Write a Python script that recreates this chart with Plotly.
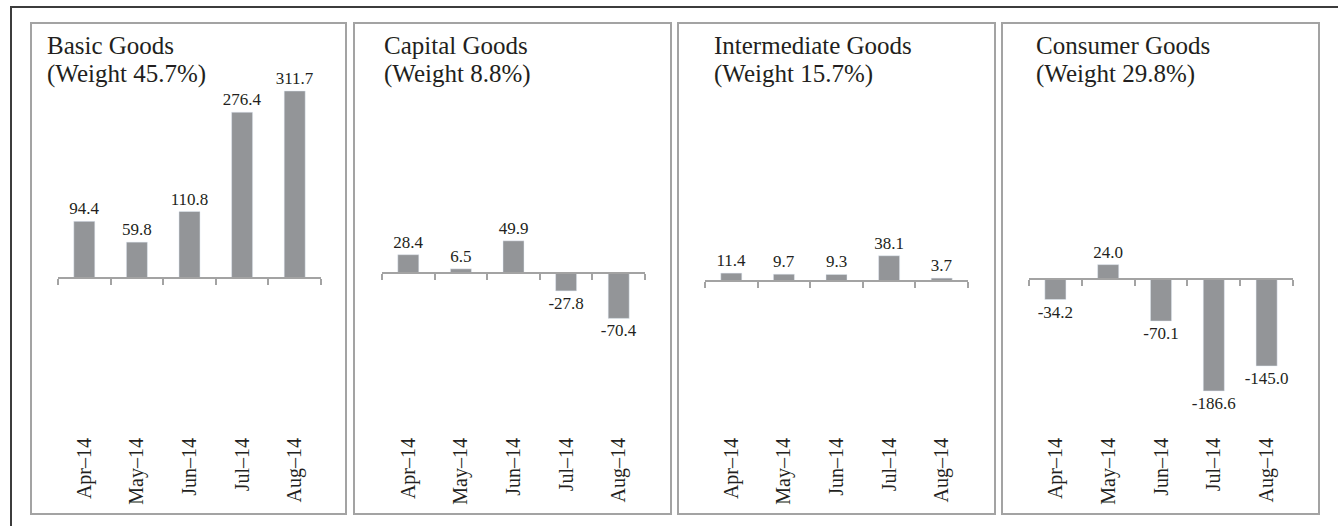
import plotly.graph_objects as go

months = ["Apr–14", "May–14", "Jun–14", "Jul–14", "Aug–14"]
basic = [94.4, 59.8, 110.8, 276.4, 311.7]
capital = [28.4, 6.5, 49.9, -27.8, -70.4]
intermediate = [11.4, 9.7, 9.3, 38.1, 3.7]
consumer = [-34.2, 24.0, -70.1, -186.6, -145.0]
names = ["Basic Goods", "Capital Goods", "Intermediate Goods", "Consumer Goods"]
weights = ["(Weight 45.7%)", "(Weight 8.8%)", "(Weight 15.7%)", "(Weight 29.8%)"]

W, H = 1338, 526
FONT = "Liberation Serif"
TXT = "#231f20"
GREY = "#a3a3a3"


def fx(px):
    return px / W


def fy(py):
    return 1 - py / H


dom_top, dom_bot = 30, 433

# pixel layout of each panel: box edges, axis extent, zero line, px per unit, title x
panels = [
    dict(values=basic, box=(31, 346), axis=(58, 321), zero=278, scale=0.60, tx=45),
    dict(values=capital, box=(354, 671), axis=(382, 645), zero=273, scale=0.645, tx=382),
    dict(values=intermediate, box=(678, 995), axis=(705, 968), zero=280.5, scale=0.65, tx=712),
    dict(values=consumer, box=(1002, 1319), axis=(1029, 1293), zero=279, scale=0.60, tx=1034),
]

fig = go.Figure()
layout = {}
shapes = []
annotations = []

for i, p in enumerate(panels):
    n = i + 1
    xa = "x" if n == 1 else f"x{n}"
    ya = "y" if n == 1 else f"y{n}"
    xz = f"x{n + 4}"
    ymax = (p["zero"] - dom_top) / p["scale"]
    ymin = -(dom_bot - p["zero"]) / p["scale"]

    fig.add_trace(go.Bar(
        x=months, y=p["values"], xaxis=xa, yaxis=ya,
        marker_color="#939598", width=0.4,
        text=[f"{v:.1f}" for v in p["values"]], textposition="outside",
        constraintext="none", cliponaxis=False,
        textfont=dict(family=FONT, size=17, color=TXT),
        showlegend=False, hoverinfo="skip",
    ))
    # empty trace so the zero axis gets drawn
    fig.add_trace(go.Scatter(x=[], y=[], xaxis=xz, yaxis=ya,
                             showlegend=False, hoverinfo="skip"))

    layout[f"xaxis{n}"] = dict(
        domain=[fx(p["axis"][0]), fx(p["axis"][1])], anchor=ya,
        type="category", range=[-0.5, 4.5], showline=False, ticks="",
        showgrid=False, zeroline=False, tickangle=-90,
        tickfont=dict(family=FONT, size=20, color=TXT),
    )
    layout[f"yaxis{n}"] = dict(
        domain=[fy(dom_bot), fy(dom_top)], anchor=xa,
        range=[ymin, ymax], visible=False,
    )
    # zero axis with boundary ticks
    layout[f"xaxis{n + 4}"] = dict(
        overlaying=xa, anchor="free", position=fy(p["zero"]),
        range=[-0.5, 4.5], tickvals=[k - 0.5 for k in range(6)],
        showticklabels=False, ticks="outside", ticklen=6, tickwidth=2,
        tickcolor=GREY, showline=True, linecolor=GREY, linewidth=2,
        showgrid=False, zeroline=False,
    )

    shapes.append(dict(type="rect", xref="paper", yref="paper",
                       x0=fx(p["box"][0]), x1=fx(p["box"][1]), y0=fy(514), y1=fy(23),
                       line=dict(color=GREY, width=2)))
    annotations.append(dict(text=names[i], xref="paper", yref="paper",
                            x=fx(p["tx"]), y=fy(45), xanchor="left", yanchor="middle",
                            showarrow=False, font=dict(family=FONT, size=25, color=TXT)))
    annotations.append(dict(text=weights[i], xref="paper", yref="paper",
                            x=fx(p["tx"]), y=fy(74), xanchor="left", yanchor="middle",
                            showarrow=False, font=dict(family=FONT, size=25, color=TXT)))

# outer frame
shapes.append(dict(type="line", xref="paper", yref="paper", x0=fx(10), x1=1.01,
                   y0=fy(7), y1=fy(7), line=dict(color="#3c3c3c", width=2)))
shapes.append(dict(type="line", xref="paper", yref="paper", x0=fx(11), x1=fx(11),
                   y0=fy(7), y1=-0.01, line=dict(color="#3c3c3c", width=2)))

fig.update_layout(
    width=W, height=H, margin=dict(l=0, r=0, t=0, b=0),
    paper_bgcolor="white", plot_bgcolor="white",
    shapes=shapes, annotations=annotations, **layout,
)

fig.write_html("out.html", config={"displayModeBar": False},
               post_script="document.body.style.margin='0';")
